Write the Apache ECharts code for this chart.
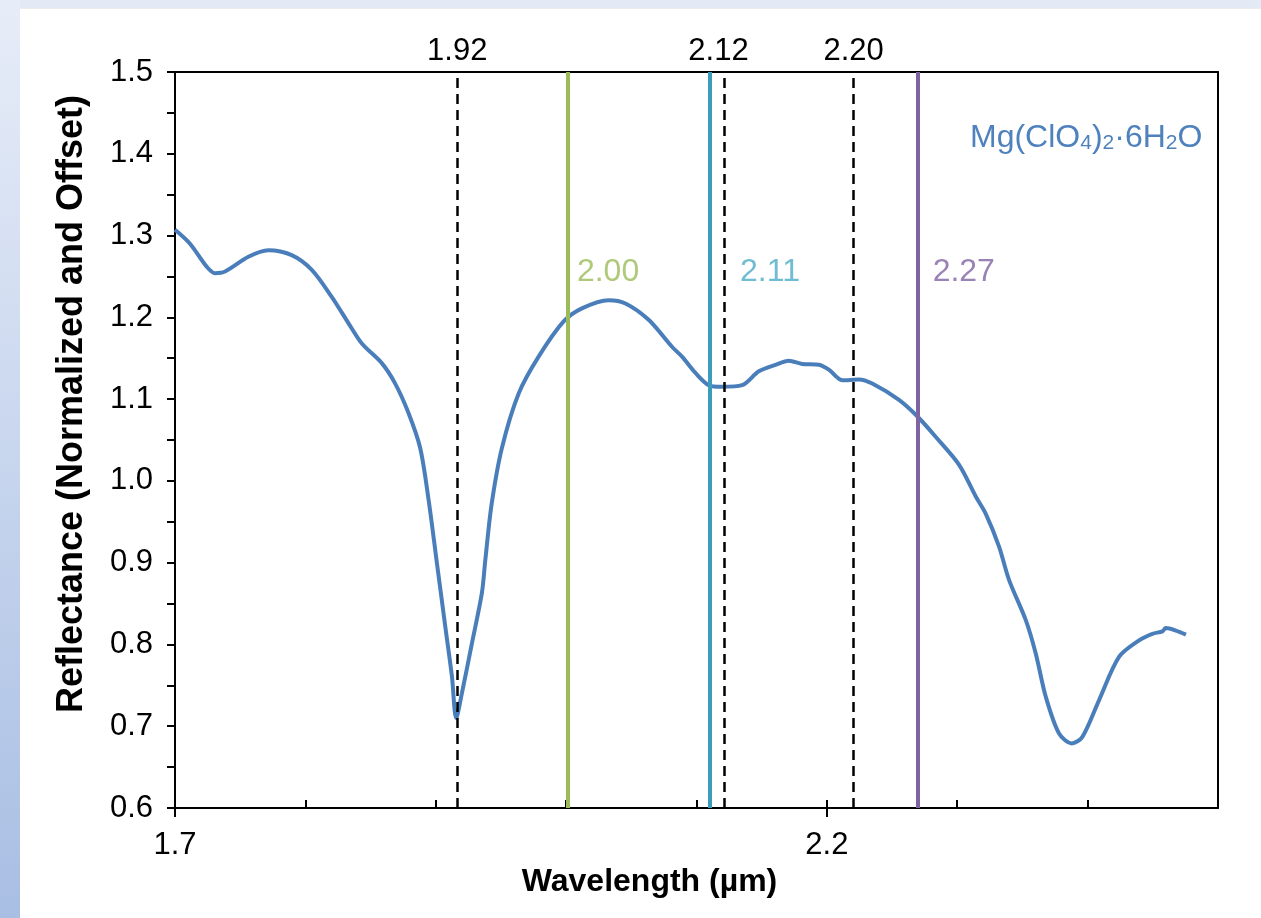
<!DOCTYPE html>
<html>
<head>
<meta charset="utf-8">
<script src="https://cdn.jsdelivr.net/npm/echarts@6/dist/echarts.min.js"></script>
<style>
html,body{margin:0;padding:0;background:#fff;}
#chart{width:1261px;height:918px;}
</style>
</head>
<body>
<div id="chart"></div>
<script>
// Spectrum (wavelength in µm, reflectance normalized and offset)
const wavelength = [1.700,1.7115,1.7243,1.7307,1.7384,1.7563,1.7716,1.7895,1.8049,1.8202,1.8330,1.8433,1.8586,1.8689,1.8791,1.8881,1.8945,1.9006,1.9073,1.9124,1.9157,1.9200,1.9277,1.9354,1.9380,1.9428,1.9507,1.9636,1.9789,1.9981,2.0121,2.0326,2.0455,2.0633,2.0812,2.0889,2.0992,2.1094,2.1196,2.1350,2.1478,2.1606,2.1708,2.1810,2.1939,2.2015,2.2118,2.2246,2.2348,2.2553,2.2693,2.2834,2.3013,2.3142,2.3218,2.3320,2.3397,2.3525,2.3602,2.3679,2.3781,2.3879,2.3960,2.4088,2.4242,2.4395,2.4497,2.4574,2.4600,2.4677,2.4754];
const reflectance = [1.307,1.290,1.262,1.254,1.256,1.274,1.282,1.276,1.258,1.225,1.193,1.168,1.144,1.119,1.083,1.040,0.977,0.903,0.822,0.761,0.710,0.740,0.801,0.863,0.903,0.971,1.040,1.107,1.152,1.195,1.211,1.221,1.217,1.197,1.164,1.152,1.132,1.117,1.115,1.117,1.134,1.142,1.147,1.143,1.142,1.136,1.123,1.124,1.119,1.099,1.079,1.054,1.020,0.981,0.960,0.920,0.879,0.830,0.789,0.736,0.691,0.679,0.687,0.732,0.785,0.805,0.813,0.816,0.820,0.817,0.812];

// Reference absorption positions (dashed black)
const dashedPositions = [1.9165, 2.1215, 2.2205];
const dashedLabels = ['1.92', '2.12', '2.20'];
// Band positions (solid coloured)
const bandPositions = [2.001, 2.11, 2.27];
const bandLabels = ['2.00', '2.11', '2.27'];
const bandColors = ['#9bbb59', '#3c9dbb', '#8064a2'];
const bandTextColors = ['#9bbb59', '#4bacc6', '#8064a2'];
const bandLabelY = 1.255;

// Axis ticks
const xLabelTicks = [1.7, 2.2];
const xMinorTicks = [1.8, 1.9, 2.0, 2.1, 2.2, 2.3, 2.4];

const FONT = "'Liberation Sans', Arial, Helvetica, sans-serif";

const chart = echarts.init(document.getElementById('chart'), null, {renderer: 'canvas'});

const curve = wavelength.map((w, i) => [w, reflectance[i]]);

const dashedData = dashedPositions.map((p, i) => ({
  xAxis: p,
  label: {
    show: true, position: 'end', formatter: dashedLabels[i], distance: 5,
    offset: i === 1 ? [-6, 0] : [0, 0],
    color: '#000', fontSize: 31, fontFamily: FONT
  },
  lineStyle: {type: [10, 6], color: '#000', width: 2.5, opacity: 1}
}));

const bandData = bandPositions.map((p, i) => ({
  xAxis: p,
  label: {show: false},
  lineStyle: {type: 'solid', color: bandColors[i], width: 4, opacity: 1}
}));

const bandLabelData = bandPositions.map((p, i) => ({
  value: [p, bandLabelY],
  label: {
    show: true, position: 'right', formatter: bandLabels[i],
    color: bandTextColors[i], distance: i === 1 ? 30 : (i === 0 ? 9 : 14),
    fontSize: 32, fontFamily: FONT
  }
}));

const option = {
  backgroundColor: '#ffffff',
  animation: false,
  grid: {left: 175, right: 43, top: 72, bottom: 110, containLabel: false},
  graphic: [
    {type: 'rect', left: 0, top: 0, shape: {width: 20, height: 918}, z: -10,
      style: {fill: new echarts.graphic.LinearGradient(0, 0, 0, 1, [
        {offset: 0, color: '#e7edf8'}, {offset: 1, color: '#a8bee3'}])}},
    {type: 'rect', left: 20, top: 0, shape: {width: 1241, height: 8}, z: -10,
      style: {fill: '#e3eaf6'}},
    {type: 'rect', left: 20, top: 8, shape: {width: 1241, height: 1}, z: -10,
      style: {fill: '#ececec'}},
    {type: 'text', left: 970, top: 122, z: 10,
      style: {
        text: '{a|Mg(ClO}{s|4}{a|)}{s|2}{a|·6H}{s|2}{a|O}',
        fill: '#4f81bd',
        rich: {
          a: {fontSize: 32, fontFamily: FONT, color: '#4f81bd', lineHeight: 38, verticalAlign: 'bottom'},
          s: {fontSize: 21, fontFamily: FONT, color: '#4f81bd', lineHeight: 18, verticalAlign: 'bottom'}
        }
      }}
  ],
  xAxis: [
    {
      type: 'value', min: 1.7, max: 2.5, position: 'bottom',
      axisLine: {show: true, onZero: false, lineStyle: {color: '#000', width: 2}},
      axisTick: {show: true, inside: false, length: 9, customValues: xLabelTicks, lineStyle: {color: '#000', width: 2}},
      axisLabel: {show: true, customValues: xLabelTicks, margin: 22, color: '#000', fontSize: 31, fontFamily: FONT,
        formatter: v => v.toFixed(1)},
      splitLine: {show: false},
      name: 'Wavelength (µm)', nameLocation: 'middle', nameGap: 58,
      nameTextStyle: {color: '#000', fontSize: 32, fontWeight: 'bold', fontFamily: FONT, padding: [0, 94, 0, 0]}
    },
    {
      type: 'value', min: 1.7, max: 2.5, position: 'bottom',
      axisLine: {show: false},
      axisTick: {show: true, inside: true, length: 8, customValues: xMinorTicks, lineStyle: {color: '#000', width: 2}},
      axisLabel: {show: false},
      splitLine: {show: false}
    },
    {
      type: 'value', min: 1.7, max: 2.5, position: 'top',
      axisLine: {show: true, onZero: false, lineStyle: {color: '#000', width: 2}},
      axisTick: {show: false}, axisLabel: {show: false}, splitLine: {show: false}
    }
  ],
  yAxis: [
    {
      type: 'value', min: 0.6, max: 1.5, interval: 0.1, position: 'left',
      axisLine: {show: true, onZero: false, lineStyle: {color: '#000', width: 2}},
      axisTick: {show: true, inside: false, length: 8, lineStyle: {color: '#000', width: 2}},
      minorTick: {show: true, splitNumber: 2, length: 8, lineStyle: {color: '#000', width: 2}},
      axisLabel: {margin: 22, color: '#000', fontSize: 31, fontFamily: FONT, formatter: v => v.toFixed(1)},
      splitLine: {show: false}, minorSplitLine: {show: false},
      name: 'Reflectance (Normalized and Offset)', nameLocation: 'middle', nameGap: 85,
      nameTextStyle: {color: '#000', fontSize: 36, fontWeight: 'bold', fontFamily: FONT, padding: [0, 0, 0, 72]}
    },
    {
      type: 'value', min: 0.6, max: 1.5, position: 'right',
      axisLine: {show: true, onZero: false, lineStyle: {color: '#000', width: 2}},
      axisTick: {show: false}, axisLabel: {show: false}, splitLine: {show: false}
    }
  ],
  series: [
    {
      name: 'dashed', type: 'line', data: [], xAxisIndex: 0, yAxisIndex: 0, z: 1,
      markLine: {symbol: ['none', 'none'], silent: true, animation: false, precision: 4,
        lineStyle: {type: [10, 6], color: '#000', width: 2.5, opacity: 1},
        emphasis: {disabled: true}, data: dashedData}
    },
    {
      name: 'bands', type: 'line', data: [], xAxisIndex: 0, yAxisIndex: 0, z: 2,
      markLine: {symbol: ['none', 'none'], silent: true, animation: false, precision: 4,
        emphasis: {disabled: true}, data: bandData}
    },
    {
      name: 'Mg(ClO4)2·6H2O', type: 'line', data: curve, xAxisIndex: 0, yAxisIndex: 0, z: 3,
      showSymbol: false, smooth: 0.3,
      lineStyle: {color: '#4a7ebb', width: 4}, itemStyle: {color: '#4a7ebb'}
    },
    {
      name: 'bandLabels', type: 'scatter', data: bandLabelData, xAxisIndex: 0, yAxisIndex: 0,
      symbolSize: 1, itemStyle: {color: 'rgba(0,0,0,0)'}, silent: true, z: 4
    }
  ]
};
chart.setOption(option);
</script>
</body>
</html>
